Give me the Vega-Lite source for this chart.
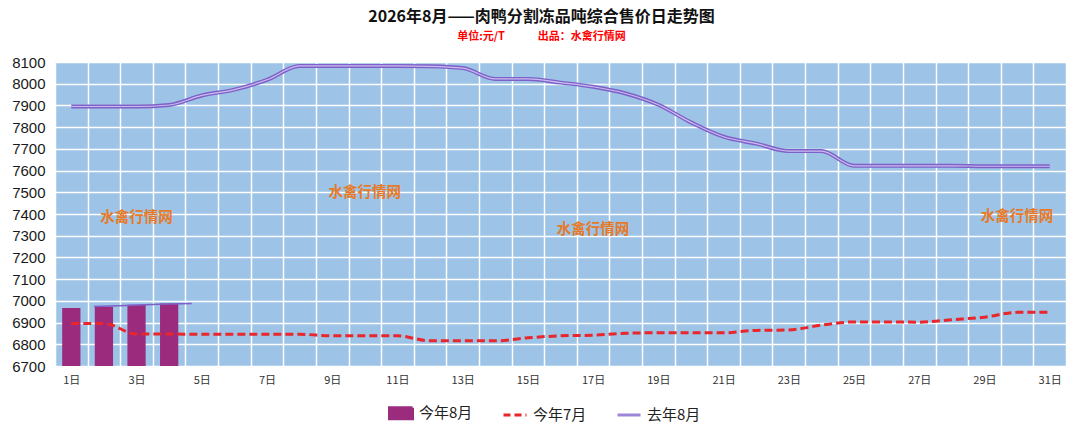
{
  "$schema": "https://vega.github.io/schema/vega-lite/v6.json",
  "width": 1011,
  "height": 304,
  "autosize": {"type": "none"},
  "padding": {"left": 55, "top": 62, "right": 14, "bottom": 67},
  "background": "white",
  "title": {
    "text": "2026年8月——肉鸭分割冻品吨综合售价日走势图",
    "subtitle": "单位:元/T\u3000\u3000\u3000出品：水禽行情网",
    "font": "Noto Sans CJK SC",
    "fontSize": 16,
    "fontWeight": "bold",
    "color": "#111111",
    "subtitleFont": "Noto Sans CJK SC",
    "subtitleFontSize": 11,
    "subtitleFontWeight": "bold",
    "subtitleColor": "#FF0000",
    "subtitlePadding": 6,
    "subtitleLineHeight": 12,
    "lineHeight": 16,
    "anchor": "middle",
    "dx": -19,
    "offset": 13
  },
  "config": {
    "view": {"fill": "#9DC3E6", "stroke": null},
    "axis": {"gridColor": "white", "gridWidth": 1.5, "gridOpacity": 1, "domain": false, "ticks": false}
  },
  "datasets": {
    "thisAug": [
      {"day": 1, "series": "今年8月", "value": 6967},
      {"day": 2, "series": "今年8月", "value": 6973},
      {"day": 3, "series": "今年8月", "value": 6982},
      {"day": 4, "series": "今年8月", "value": 6988}
    ],
    "trend": [
      {"day": 2, "value": 6974},
      {"day": 3, "value": 6979},
      {"day": 4, "value": 6984},
      {"day": 5, "value": 6988}
    ],
    "thisJul": [
      {"day": 1, "series": "今年7月", "value": 6896},
      {"day": 2, "series": "今年7月", "value": 6896},
      {"day": 3, "series": "今年7月", "value": 6847},
      {"day": 4, "series": "今年7月", "value": 6847},
      {"day": 5, "series": "今年7月", "value": 6846},
      {"day": 6, "series": "今年7月", "value": 6846},
      {"day": 7, "series": "今年7月", "value": 6846},
      {"day": 8, "series": "今年7月", "value": 6846},
      {"day": 9, "series": "今年7月", "value": 6839},
      {"day": 10, "series": "今年7月", "value": 6839},
      {"day": 11, "series": "今年7月", "value": 6839},
      {"day": 12, "series": "今年7月", "value": 6816},
      {"day": 13, "series": "今年7月", "value": 6816},
      {"day": 14, "series": "今年7月", "value": 6816},
      {"day": 15, "series": "今年7月", "value": 6830},
      {"day": 16, "series": "今年7月", "value": 6839},
      {"day": 17, "series": "今年7月", "value": 6842},
      {"day": 18, "series": "今年7月", "value": 6851},
      {"day": 19, "series": "今年7月", "value": 6853},
      {"day": 20, "series": "今年7月", "value": 6853},
      {"day": 21, "series": "今年7月", "value": 6853},
      {"day": 22, "series": "今年7月", "value": 6864},
      {"day": 23, "series": "今年7月", "value": 6866},
      {"day": 24, "series": "今年7月", "value": 6888},
      {"day": 25, "series": "今年7月", "value": 6903},
      {"day": 26, "series": "今年7月", "value": 6903},
      {"day": 27, "series": "今年7月", "value": 6902},
      {"day": 28, "series": "今年7月", "value": 6913},
      {"day": 29, "series": "今年7月", "value": 6925},
      {"day": 30, "series": "今年7月", "value": 6947},
      {"day": 31, "series": "今年7月", "value": 6947}
    ],
    "lastAug": [
      {"day": 1, "series": "去年8月", "value": 7895},
      {"day": 2, "series": "去年8月", "value": 7895},
      {"day": 3, "series": "去年8月", "value": 7895},
      {"day": 4, "series": "去年8月", "value": 7902},
      {"day": 5, "series": "去年8月", "value": 7946},
      {"day": 6, "series": "去年8月", "value": 7973},
      {"day": 7, "series": "去年8月", "value": 8018},
      {"day": 8, "series": "去年8月", "value": 8082},
      {"day": 9, "series": "去年8月", "value": 8082},
      {"day": 10, "series": "去年8月", "value": 8082},
      {"day": 11, "series": "去年8月", "value": 8082},
      {"day": 12, "series": "去年8月", "value": 8080},
      {"day": 13, "series": "去年8月", "value": 8072},
      {"day": 14, "series": "去年8月", "value": 8022},
      {"day": 15, "series": "去年8月", "value": 8022},
      {"day": 16, "series": "去年8月", "value": 8005},
      {"day": 17, "series": "去年8月", "value": 7986},
      {"day": 18, "series": "去年8月", "value": 7955},
      {"day": 19, "series": "去年8月", "value": 7903},
      {"day": 20, "series": "去年8月", "value": 7822},
      {"day": 21, "series": "去年8月", "value": 7756},
      {"day": 22, "series": "去年8月", "value": 7724},
      {"day": 23, "series": "去年8月", "value": 7690},
      {"day": 24, "series": "去年8月", "value": 7690},
      {"day": 25, "series": "去年8月", "value": 7622},
      {"day": 26, "series": "去年8月", "value": 7622},
      {"day": 27, "series": "去年8月", "value": 7622},
      {"day": 28, "series": "去年8月", "value": 7622},
      {"day": 29, "series": "去年8月", "value": 7620},
      {"day": 30, "series": "去年8月", "value": 7620},
      {"day": 31, "series": "去年8月", "value": 7620}
    ],
    "marks": [
      {"day": 3, "value": 7380, "label": "水禽行情网"},
      {"day": 10, "value": 7496, "label": "水禽行情网"},
      {"day": 17, "value": 7325, "label": "水禽行情网"},
      {"day": 30, "value": 7385, "label": "水禽行情网"}
    ]
  },
  "encoding": {
    "x": {
      "field": "day",
      "type": "ordinal",
      "scale": {"domain": [1,2,3,4,5,6,7,8,9,10,11,12,13,14,15,16,17,18,19,20,21,22,23,24,25,26,27,28,29,30,31], "paddingInner": 0, "paddingOuter": 0},
      "axis": {
        "title": null,
        "labelAngle": 0,
        "tickBand": "extent",
        "grid": true,
        "labelExpr": "datum.value % 2 == 1 ? datum.value + '日' : ''",
        "labelFont": "Noto Sans CJK SC",
        "labelFontSize": 11,
        "labelColor": "#333333",
        "labelPadding": 8
      }
    },
    "y": {
      "field": "value",
      "type": "quantitative",
      "scale": {"domain": [6700, 8100], "nice": false, "zero": false},
      "axis": {
        "title": null,
        "format": "d",
        "values": [6700,6800,6900,7000,7100,7200,7300,7400,7500,7600,7700,7800,7900,8000,8100],
        "labelFont": "Liberation Sans",
        "labelFontSize": 15,
        "labelColor": "#1a1a1a",
        "labelPadding": 10
      }
    }
  },
  "layer": [
    {
      "data": {"name": "thisAug"},
      "mark": {"type": "bar", "width": {"band": 0.56}},
      "encoding": {
        "y2": {"datum": 6700},
        "color": {
          "field": "series",
          "type": "nominal",
          "scale": {"domain": ["今年8月", "今年7月", "去年8月"], "range": ["#9B2C7D", "#E8262C", "#9C86D8"]},
          "legend": {
            "title": null,
            "orient": "none",
            "legendX": 333,
            "legendY": 338,
            "direction": "horizontal",
            "labelFont": "Noto Sans CJK SC",
            "labelFontSize": 15,
            "labelColor": "#222222",
            "columnPadding": 24,
            "symbolSize": 529,
            "labelOffset": 5,
            "encode": {
              "symbols": {
                "update": {
                  "shape": {"signal": "datum.label === '今年8月' ? 'M-1,-0.48H1V0.48H-1Z' : 'stroke'"},
                  "strokeDash": {"signal": "datum.label === '今年7月' ? [7,4] : [1,0]"},
                  "strokeWidth": {"value": 3},
                  "fillOpacity": {"value": 1},
                  "opacity": {"value": 1}
                }
              }
            }
          }
        }
      }
    },
    {
      "data": {"name": "trend"},
      "mark": {"type": "line", "color": "#7E60C8", "strokeWidth": 1.5, "xOffset": -10},
      "encoding": {}
    },
    {
      "data": {"name": "thisJul"},
      "mark": {"type": "line", "strokeWidth": 3, "strokeDash": [8, 4], "interpolate": "monotone"},
      "encoding": {"color": {"field": "series", "type": "nominal"}}
    },
    {
      "data": {"name": "lastAug"},
      "mark": {"type": "line", "strokeWidth": 4, "interpolate": "monotone", "stroke": "#7E60C8"},
      "encoding": {"color": {"field": "series", "type": "nominal"}}
    },
    {
      "data": {"name": "lastAug"},
      "mark": {"type": "line", "strokeWidth": 1.2, "interpolate": "monotone", "color": "#C9BDF0"},
      "encoding": {}
    },
    {
      "data": {"name": "marks"},
      "mark": {"type": "text", "font": "Noto Sans CJK SC", "fontSize": 14.5, "fontWeight": "bold", "color": "#E67A28"},
      "encoding": {"text": {"field": "label"}}
    }
  ]
}
